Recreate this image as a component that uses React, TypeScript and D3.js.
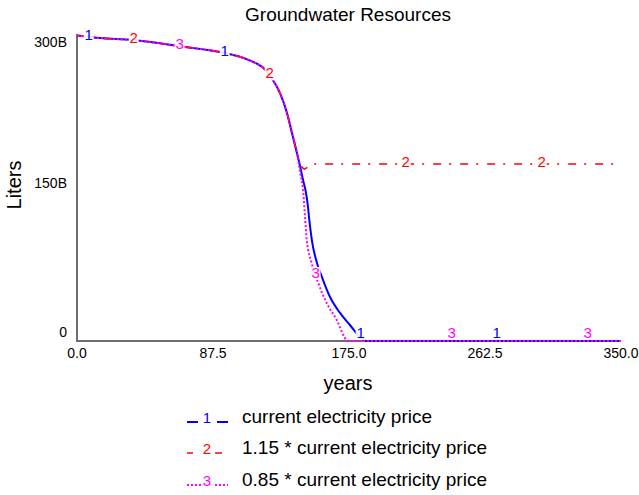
import React from "react";
import * as d3 from "d3";

const title = "Groundwater Resources";
const xTicks = [0, 87.5, 175, 262.5, 350];
const xTickLabels = ["0.0", "87.5", "175.0", "262.5", "350.0"];
const yTicks = [0, 150e9, 300e9];
const yTickLabels = ["0", "150B", "300B"];

// common decline (t in years, v in billions of liters)
const commonT = [0, 15, 36, 66, 96, 108, 116, 120, 123, 126, 130.6, 135.1, 138.3, 141.5];
const commonV = [299.5, 297, 295, 289, 282, 277, 271.6, 267.6, 262.7, 255.9, 243, 223.5, 204, 184.3];

const s1T = [143.5, 145.4, 147, 148.5, 149.5, 151.2, 154.4, 157.6, 162.8, 169.2, 175.6, 182.1, 186, 350];
const s1V = [171.6, 158, 148, 133, 118, 98, 76.5, 62.7, 43.1, 27.5, 15.7, 3.9, 0, 0];

const s2T = [143, 145, 146.2, 151, 350];
const s2V = [176, 170, 168.5, 173.5, 173.5];

const s3T = [143.5, 145.6, 146.7, 147.8, 151, 155.3, 160.7, 167.1, 173.5, 175.5, 350];
const s3V = [166, 144.8, 121.9, 99, 76.2, 56.6, 37, 20.6, 1, 0, 0];

const seriesNames = [
  "current electricity price",
  "1.15 * current electricity price",
  "0.85 * current electricity price",
];
const seriesColors = ["#0000ff", "#ff0000", "#ff00ff"];
const seriesDash = ["none", "8,8,2,9", "2,2"];
const seriesLabelT = [
  [7.5, 95, 182.5, 270],
  [36.5, 124, 211.5, 299],
  [66, 153.5, 241, 328.5],
];

function build(t: number[], v: number[]) {
  return t.map((x, i) => ({ t: x, v: v[i] * 1e9 }));
}

export default function App() {
  const W = 639;
  const H = 495;
  const x = d3.scaleLinear().domain([0, 350]).range([77, 621]);
  const y = d3.scaleLinear().domain([0, 300e9]).range([341, 35]);

  const common = build(commonT, commonV);
  const data = [
    common.concat(build(s1T, s1V)),
    common.concat(build(s2T, s2V)),
    common.concat(build(s3T, s3V)),
  ];

  const line = d3
    .line<{ t: number; v: number }>()
    .x((d) => x(d.t))
    .y((d) => y(d.v))
    .curve(d3.curveMonotoneX);

  const valueAt = (s: { t: number; v: number }[], t: number) => {
    for (let i = 1; i < s.length; i++) {
      if (t <= s[i].t) {
        const a = s[i - 1], b = s[i];
        const f = (t - a.t) / (b.t - a.t || 1);
        return a.v + f * (b.v - a.v);
      }
    }
    return s[s.length - 1].v;
  };

  const yLabelDy = [-4, 0, 12];
  const font = "'Liberation Sans', Arial, sans-serif";

  const labelNodes: React.ReactNode[] = [];
  data.forEach((s, si) => {
    seriesLabelT[si].forEach((t, li) => {
      const cx = x(t);
      const cy = y(valueAt(s, t));
      const base = Math.min(cy + 3, 338);
      labelNodes.push(
        <g key={`lab-${si}-${li}`}>
          <rect x={cx - 5} y={base - 11} width={10} height={13} fill="white" opacity={0.9} />
          <text x={cx} y={base} textAnchor="middle" fontSize={15} fill={seriesColors[si]} fontFamily={font}>
            {si + 1}
          </text>
        </g>
      );
    });
  });

  const legendY = [423, 454, 486];
  const legendDash = ["11,19,11", "6,22,7", "2,2"];

  return (
    <svg width={W} height={H} style={{ position: "absolute", left: 0, top: 0, background: "white" }}>
      <rect x={0} y={0} width={W} height={H} fill="white" />
      <text x={348} y={21} textAnchor="middle" fontSize={19} fontFamily={font} fill="#000">
        {title}
      </text>
      {/* axes */}
      <line x1={x(0)} x2={x(0)} y1={34} y2={y(0) + 1} stroke="#6e6e6e" strokeWidth={2} />
      <line x1={x(0)} x2={x(350)} y1={y(0)} y2={y(0)} stroke="#6e6e6e" strokeWidth={2} />
      {yTicks.map((v, i) => (
        <text key={`yt${i}`} x={67} y={y(v) + yLabelDy[i]} textAnchor="end" fontSize={14} fontFamily={font} fill="#000">
          {yTickLabels[i]}
        </text>
      ))}
      {xTicks.map((v, i) => (
        <text key={`xt${i}`} x={x(v)} y={358} textAnchor="middle" fontSize={14} fontFamily={font} fill="#000">
          {xTickLabels[i]}
        </text>
      ))}
      <text x={348} y={390} textAnchor="middle" fontSize={20} fontFamily={font} fill="#000">
        years
      </text>
      <text transform="translate(21,185) rotate(-90)" textAnchor="middle" fontSize={20} fontFamily={font} fill="#000">
        Liters
      </text>
      {/* series */}
      {data.map((s, i) => (
        <path
          key={`s${i}`}
          d={line(s) || ""}
          fill="none"
          stroke={seriesColors[i]}
          strokeWidth={i === 0 ? 2 : i === 1 ? 1.6 : 2}
          strokeDasharray={seriesDash[i]}
        />
      ))}
      {labelNodes}
      {/* legend */}
      {seriesNames.map((n, i) => (
        <g key={`lg${i}`}>
          <line x1={187} x2={228} y1={legendY[i] - 1} y2={legendY[i] - 1} stroke={seriesColors[i]} strokeWidth={i === 1 ? 1.6 : 2} strokeDasharray={legendDash[i]} />
          <rect x={201} y={legendY[i] - 12} width={12} height={14} fill="white" />
          <text x={207} y={legendY[i]} textAnchor="middle" fontSize={15} fill={seriesColors[i]} fontFamily={font}>
            {i + 1}
          </text>
          <text x={242} y={legendY[i]} fontSize={19} fontFamily={font} fill="#000">
            {n}
          </text>
        </g>
      ))}
    </svg>
  );
}
